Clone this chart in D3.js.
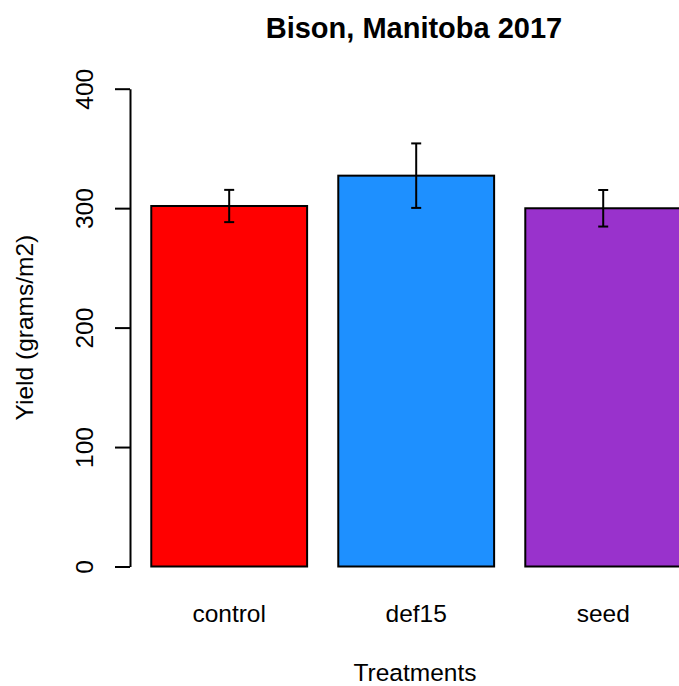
<!DOCTYPE html>
<html>
<head>
<meta charset="utf-8">
<script src="https://cdn.jsdelivr.net/npm/d3@7"></script>
<style>
  body { margin: 0; background: #fff; }
  svg { display: block; font-family: "Liberation Sans", Arial, sans-serif; }
</style>
</head>
<body>
<svg id="chart" width="679" height="686"></svg>
<script>
// data
var treatments = ["control", "def15", "seed"];
var yield_means = [301.8, 327.2, 299.9];
var yield_se = [13.5, 27, 15.3];
var bar_colors = ["#FF0000", "#1E90FF", "#9932CC"];
var y_ticks = [0, 100, 200, 300, 400];

var svg = d3.select("#chart");

// R barplot layout: bars width 1, space 0.2
var x = d3.scaleBand()
    .domain(treatments)
    .range([120.1, 712.3])
    .paddingInner(1 / 6)
    .paddingOuter(1 / 6);

var y = d3.scaleLinear()
    .domain([0, 400])
    .range([566.5, 88.7]);

// Bars
svg.append("g")
    .selectAll("rect")
    .data(treatments)
    .join("rect")
    .attr("x", function (d) { return x(d); })
    .attr("y", function (d, i) { return y(yield_means[i]); })
    .attr("width", x.bandwidth())
    .attr("height", function (d, i) { return y(0) - y(yield_means[i]); })
    .attr("fill", function (d, i) { return bar_colors[i]; })
    .attr("stroke", "#000")
    .attr("stroke-width", 2);

// Error bars
var err = svg.append("g")
    .attr("stroke", "#000")
    .attr("stroke-width", 2)
    .selectAll("g")
    .data(treatments)
    .join("g");

function cx(d) { return x(d) + x.bandwidth() / 2; }

err.append("line")
    .attr("x1", cx).attr("x2", cx)
    .attr("y1", function (d, i) { return y(yield_means[i] + yield_se[i]); })
    .attr("y2", function (d, i) { return y(yield_means[i] - yield_se[i]); });
err.append("line")
    .attr("x1", function (d) { return cx(d) - 5; })
    .attr("x2", function (d) { return cx(d) + 5; })
    .attr("y1", function (d, i) { return y(yield_means[i] + yield_se[i]); })
    .attr("y2", function (d, i) { return y(yield_means[i] + yield_se[i]); });
err.append("line")
    .attr("x1", function (d) { return cx(d) - 5; })
    .attr("x2", function (d) { return cx(d) + 5; })
    .attr("y1", function (d, i) { return y(yield_means[i] - yield_se[i]); })
    .attr("y2", function (d, i) { return y(yield_means[i] - yield_se[i]); });

// Y axis
var yAxis = svg.append("g")
    .attr("transform", "translate(130,0)")
    .call(d3.axisLeft(y).tickValues(y_ticks).tickSize(15).tickSizeOuter(0).tickPadding(0));
yAxis.selectAll("path, line").attr("stroke", "#000").attr("stroke-width", 2);
yAxis.selectAll("text")
    .attr("x", null)
    .attr("dy", null)
    .attr("transform", "translate(-37,0) rotate(-90)")
    .attr("text-anchor", "middle")
    .attr("fill", "#000")
    .style("font-size", "24.5px")
    .style("font-family", "'Liberation Sans', Arial, sans-serif");

// Category labels
svg.append("g")
    .selectAll("text")
    .data(treatments)
    .join("text")
    .attr("x", cx)
    .attr("y", 621.5)
    .attr("text-anchor", "middle")
    .style("font-size", "24.5px")
    .text(function (d) { return d; });

// Title and axis titles
svg.append("text")
    .attr("x", 414)
    .attr("y", 37.5)
    .attr("text-anchor", "middle")
    .style("font-size", "29px")
    .style("font-weight", "bold")
    .text("Bison, Manitoba 2017");

svg.append("text")
    .attr("x", 415)
    .attr("y", 681)
    .attr("text-anchor", "middle")
    .style("font-size", "24.5px")
    .text("Treatments");

svg.append("text")
    .attr("transform", "translate(33,327.6) rotate(-90)")
    .attr("text-anchor", "middle")
    .style("font-size", "24.5px")
    .text("Yield (grams/m2)");
</script>
</body>
</html>
